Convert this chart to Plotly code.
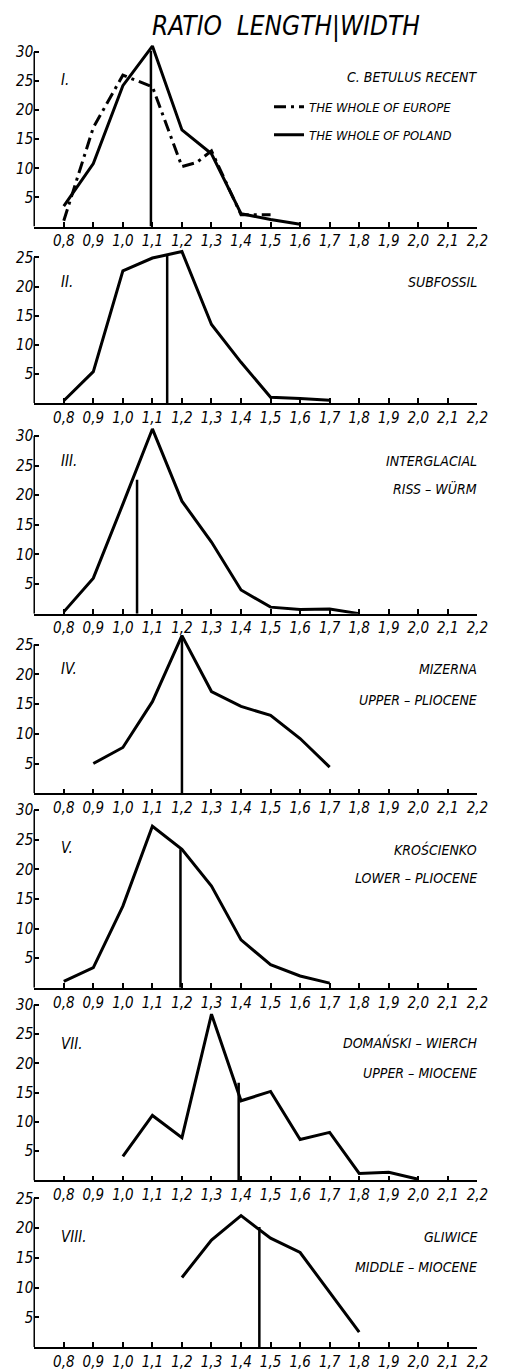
import plotly.graph_objects as go

# ---------------- data ----------------
x_ticks = [0.8, 0.9, 1.0, 1.1, 1.2, 1.3, 1.4, 1.5, 1.6, 1.7, 1.8, 1.9, 2.0, 2.1, 2.2]
x_tick_labels = ["0,8", "0,9", "1,0", "1,1", "1,2", "1,3", "1,4", "1,5", "1,6", "1,7",
                 "1,8", "1,9", "2,0", "2,1", "2,2"]

# Panel I - C. betulus recent
europe_x = [0.8, 0.9, 1.0, 1.1, 1.2, 1.25, 1.3, 1.4, 1.5]
europe_y = [1, 17, 26, 24, 10.3, 11, 13, 2, 2]
poland_x = [0.8, 0.9, 1.0, 1.1, 1.2, 1.3, 1.4, 1.5, 1.6]
poland_y = [3.5, 10.8, 24.2, 31, 16.6, 12.5, 2.2, 1.2, 0.4]

# Panel II - subfossil
subfossil_x = [0.8, 0.9, 1.0, 1.1, 1.2, 1.3, 1.4, 1.5, 1.6, 1.7]
subfossil_y = [0.4, 5.4, 22.7, 24.9, 26, 13.5, 7, 1, 0.8, 0.5]

# Panel III - interglacial Riss-Würm
interglacial_x = [0.8, 0.9, 1.0, 1.1, 1.2, 1.3, 1.4, 1.5, 1.6, 1.7, 1.8]
interglacial_y = [0.3, 6, 18.5, 31.2, 19, 12.1, 4, 1.1, 0.7, 0.8, 0]

# Panel IV - Mizerna, upper Pliocene
mizerna_x = [0.9, 1.0, 1.1, 1.2, 1.3, 1.4, 1.5, 1.6, 1.7]
mizerna_y = [5, 7.7, 15.4, 26.5, 17.1, 14.6, 13.1, 9.2, 4.4]

# Panel V - Krościenko, lower Pliocene
kroscienko_x = [0.8, 0.9, 1.0, 1.1, 1.2, 1.3, 1.4, 1.5, 1.6, 1.7]
kroscienko_y = [1.1, 3.4, 13.8, 27.3, 23.4, 17.2, 8.1, 3.9, 2, 0.8]

# Panel VII - Domański Wierch, upper Miocene
domanski_x = [1.0, 1.1, 1.2, 1.3, 1.4, 1.5, 1.6, 1.7, 1.8, 1.9, 2.0]
domanski_y = [4.1, 11.1, 7.3, 28.4, 13.6, 15.2, 7, 8.2, 1.2, 1.4, 0.2]

# Panel VIII - Gliwice, middle Miocene
gliwice_x = [1.2, 1.3, 1.4, 1.5, 1.6, 1.7, 1.8]
gliwice_y = [11.7, 18, 22.1, 18.3, 15.9, 9.2, 2.5]

# median (vertical) lines per panel
median_x = [1.095, 1.15, 1.048, 1.2, 1.195, 1.392, 1.462]
median_top = [30.2, 25.3, 22.6, 26.5, 23.4, 16.7, 20.2]

y_max = [30, 25, 30, 25, 30, 30, 25]

numerals = ["I.", "II.", "III.", "IV.", "V.", "VII.", "VIII."]
labels_1 = ["C. BETULUS RECENT", "SUBFOSSIL", "INTERGLACIAL", "MIZERNA",
            "KROŚCIENKO", "DOMAŃSKI – WIERCH", "GLIWICE"]
labels_2 = ["", "", "RISS – WÜRM", "UPPER – PLIOCENE", "LOWER – PLIOCENE",
            "UPPER – MIOCENE", "MIDDLE – MIOCENE"]

series = [
    (poland_x, poland_y),
    (subfossil_x, subfossil_y),
    (interglacial_x, interglacial_y),
    (mizerna_x, mizerna_y),
    (kroscienko_x, kroscienko_y),
    (domanski_x, domanski_y),
    (gliwice_x, gliwice_y),
]

# ---------------- layout geometry (pixels) ----------------
W, H = 505, 1371
panel_top = [52, 258, 437, 646, 812, 1007, 1201]   # pixel row of top tick
panel_base = [227, 404, 615, 795, 990, 1183, 1350]  # pixel row of x-axis
x_left, x_right = 35, 488
Y_EXT = 3.0  # headroom (data units) above the top tick so peaks are not clipped
num_y = [80, 283, 462, 670, 850, 1046, 1240]
lab1_y = [77, 283, 462, 670, 851, 1045, 1240]
lab2_y = [None, None, 490, 702, 880, 1075, 1270]

def px(x):
    return x / W

def py(y):
    return 1 - y / H

FONT = "Liberation Sans Narrow, DejaVu Sans Condensed, Liberation Sans, Arial, sans-serif"

fig = go.Figure()
layout = dict(
    width=W, height=H,
    margin=dict(l=0, r=0, t=0, b=0),
    paper_bgcolor="white", plot_bgcolor="rgba(0,0,0,0)",
    showlegend=True,
    legend=dict(
        x=px(275), y=py(92), xanchor="left", yanchor="top",
        bgcolor="rgba(0,0,0,0)", borderwidth=0,
        font=dict(family=FONT, size=13, color="black", style="italic"),
        tracegroupgap=8, itemwidth=30,
    ),
)

annotations = []
shapes = []
for i in range(7):
    n = "" if i == 0 else str(i + 1)
    xa, ya = "x" + n, "y" + n
    scale = (panel_base[i] - panel_top[i]) / y_max[i]
    dom_top_px = panel_top[i] - Y_EXT * scale
    layout["xaxis" + n] = dict(
        domain=[px(x_left), px(x_right)], anchor=ya, range=[0.7, 2.2],
        tickmode="array", tickvals=x_ticks, ticktext=x_tick_labels,
        ticks="inside", ticklen=5, tickwidth=1.5, tickcolor="black",
        showline=True, linecolor="black", linewidth=1.5,
        showgrid=False, zeroline=False,
        tickfont=dict(family=FONT, size=15, color="black", style="italic"),
    )
    yt = list(range(5, y_max[i] + 1, 5))
    layout["yaxis" + n] = dict(
        domain=[py(panel_base[i]), py(dom_top_px)], anchor=xa,
        range=[0, y_max[i] + Y_EXT],
        tickmode="array", tickvals=yt, ticktext=[str(v) for v in yt],
        ticks="inside", ticklen=5, tickwidth=1.5, tickcolor="black",
        showline=False, showgrid=False, zeroline=False,
        tickfont=dict(family=FONT, size=15, color="black", style="italic"),
    )
    # y-axis line only up to the top tick
    shapes.append(dict(
        type="line", xref=xa + " domain", yref=ya,
        x0=0, x1=0, y0=0, y1=y_max[i],
        line=dict(color="black", width=1.5),
    ))

    if i == 0:
        fig.add_trace(go.Scatter(
            x=europe_x, y=europe_y, mode="lines", xaxis=xa, yaxis=ya,
            name="THE WHOLE OF EUROPE", legendgroup="eu", showlegend=True,
            line=dict(color="black", width=3, dash="12px,5px,3px,5px"),
        ))
    sx, sy = series[i]
    fig.add_trace(go.Scatter(
        x=sx, y=sy, mode="lines", xaxis=xa, yaxis=ya,
        name="THE WHOLE OF POLAND", legendgroup="pl", showlegend=(i == 0),
        line=dict(color="black", width=3),
    ))
    fig.add_trace(go.Scatter(
        x=[median_x[i], median_x[i]], y=[0, median_top[i]], mode="lines",
        xaxis=xa, yaxis=ya, showlegend=False,
        line=dict(color="black", width=2.5),
    ))

    annotations.append(dict(
        text="<i>" + numerals[i] + "</i>", x=px(60), y=py(num_y[i]),
        xref="paper", yref="paper", xanchor="left", yanchor="middle",
        showarrow=False, font=dict(family=FONT, size=15, color="black"),
    ))
    annotations.append(dict(
        text="<i>" + labels_1[i] + "</i>", x=px(490), y=py(lab1_y[i]),
        xref="paper", yref="paper", xanchor="right", yanchor="middle",
        showarrow=False, font=dict(family=FONT, size=14, color="black"),
    ))
    if labels_2[i]:
        annotations.append(dict(
            text="<i>" + labels_2[i] + "</i>", x=px(490), y=py(lab2_y[i]),
            xref="paper", yref="paper", xanchor="right", yanchor="middle",
            showarrow=False, font=dict(family=FONT, size=14, color="black"),
        ))

annotations.append(dict(
    text="<i>RATIO  LENGTH|WIDTH</i>", x=px(292), y=py(27),
    xref="paper", yref="paper", xanchor="center", yanchor="middle",
    showarrow=False, font=dict(family=FONT, size=26, color="black"),
))
layout["annotations"] = annotations
layout["shapes"] = shapes

fig.update_layout(**layout)
fig.write_html("out.html")
